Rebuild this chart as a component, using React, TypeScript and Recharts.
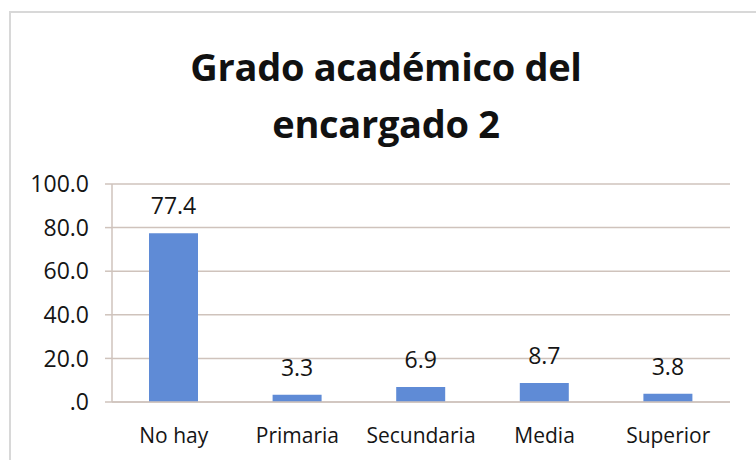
import { BarChart, Bar, XAxis, YAxis, CartesianGrid, LabelList } from "recharts";

const categories = ["No hay", "Primaria", "Secundaria", "Media", "Superior"];
const values = [77.4, 3.3, 6.9, 8.7, 3.8];
const yTicks = [0, 20, 40, 60, 80, 100];

const data = categories.map((name, i) => ({ name, value: values[i] }));

const FONT = "'Open Sans', sans-serif";
const GRID = "#cfc3bc";
const INK = "#151515";

const fmt = (v: number) => (v === 0 ? ".0" : v.toFixed(1));

export default function App() {
  return (
    <div style={{ position: "absolute", left: 0, top: 0, width: 756, height: 460, background: "#fff", fontFamily: FONT }}>
      <div
        style={{
          position: "absolute",
          left: 9,
          top: 11,
          right: 0,
          bottom: 0,
          borderLeft: "2px solid #d8d8d8",
          borderTop: "2px solid #d8d8d8",
        }}
      />
      <div
        style={{
          position: "absolute",
          left: 0,
          top: 38,
          width: 772,
          textAlign: "center",
          fontWeight: 700,
          fontSize: 38,
          lineHeight: "57px",
          letterSpacing: -0.3,
          color: "#111",
        }}
      >
        Grado académico del
        <br />
        encargado 2
      </div>
      <BarChart
        width={756}
        height={460}
        data={data}
        margin={{ top: 184, right: 26, bottom: 0, left: 0 }}
        style={{ position: "absolute", left: 0, top: 0 }}
      >
        <CartesianGrid vertical={false} stroke={GRID} strokeWidth={1.5} />
        <XAxis
          dataKey="name"
          height={58}
          axisLine={{ stroke: GRID, strokeWidth: 1.5 }}
          tickLine={false}
          tickMargin={20}
          tick={{ fill: INK, fontSize: 21, fontFamily: FONT }}
          interval={0}
        />
        <YAxis
          width={112}
          domain={[0, 100]}
          ticks={yTicks}
          tickFormatter={fmt}
          axisLine={{ stroke: GRID, strokeWidth: 1.5 }}
          tickLine={{ stroke: GRID, strokeWidth: 1.5 }}
          tickSize={7}
          tickMargin={16}
          tick={{ fill: INK, fontSize: 23, fontFamily: FONT }}
        />
        <Bar dataKey="value" fill="#5f8bd6" barSize={49} isAnimationActive={false}>
          <LabelList
            dataKey="value"
            position="top"
            offset={19}
            formatter={(v: number) => v.toFixed(1)}
            style={{ fill: INK, fontSize: 23, fontFamily: FONT }}
          />
        </Bar>
      </BarChart>
    </div>
  );
}
